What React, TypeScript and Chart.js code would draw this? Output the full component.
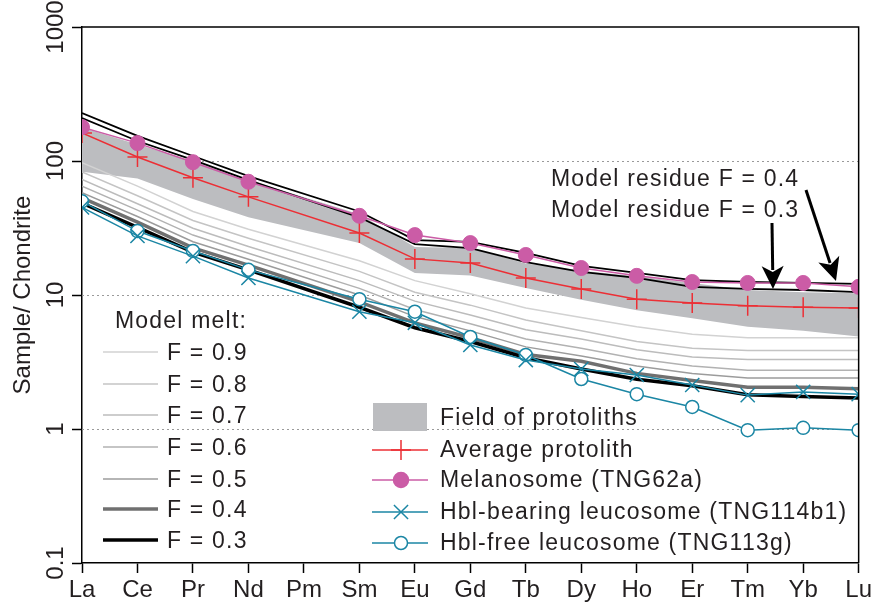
import React, { useEffect, useRef } from 'react';
import { Chart, registerables } from 'chart.js';

Chart.register(...registerables);

// ---------- data ----------
const elements = ['La', 'Ce', 'Pr', 'Nd', 'Pm', 'Sm', 'Eu', 'Gd', 'Tb', 'Dy', 'Ho', 'Er', 'Tm', 'Yb', 'Lu'];
const yTickValues = [0.1, 1, 10, 100, 1000];
const gridValues = [1, 10, 100];

const fieldUpper = [178, 133, 100, 72, null, 40, 22.8, 22.4, 17.2, 15.2, 13.8, 12.3, 10.9, 10.5, 10.3];
const fieldLower = [83, 74, 52, 38, null, 24.4, 14.6, 14.0, 11.3, 9.2, 7.7, 6.7, 5.8, 5.4, 4.9];

const averageProtolith = [162, 107, 75, 54, null, 29, 18.6, 17.3, 13.4, 11.1, 9.3, 8.7, 8.3, 8.1, 8.0];
const melanosome = [179, 136, 98, 70, null, 39, 28, 24.4, 19.9, 15.9, 13.9, 12.5, 12.3, 12.3, 11.5];
const hblBearing = [45, 27.6, 19.5, 13.4, null, 7.5, 6.2, 4.24, 3.27, 2.8, 2.53, 2.13, 1.79, 1.89, 1.82];
const hblFree = [50, 30, 21.3, 15.4, null, 9.3, 7.5, 4.86, 3.57, 2.36, 1.82, 1.46, 0.98, 1.02, 0.98];

const residueF04 = [228, 154, 109, 77, null, 42, 25.7, 24.9, 20.6, 16.5, 14.6, 12.9, 12.5, 12.3, 12.1];
const residueF03 = [209, 141, 102, 72, null, 38, 24, 22.4, 17.6, 14.9, 13.4, 11.5, 11.1, 10.9, 10.5];

const meltF09 = [97, 65, 42, 31, null, 18, 12.8, 10.2, 8.0, 6.8, 5.8, 5.1, 4.8, 4.8, 4.8];
const meltF08 = [83, 55, 36, 26.5, null, 15, 10.5, 8.4, 6.5, 5.4, 4.5, 4.0, 3.85, 3.85, 3.85];
const meltF07 = [73, 48, 31.5, 23, null, 12.8, 9.0, 7.1, 5.5, 4.7, 3.9, 3.45, 3.3, 3.3, 3.3];
const meltF06 = [65, 43, 28, 20.5, null, 11.2, 7.8, 6.1, 4.7, 4.0, 3.35, 2.95, 2.75, 2.75, 2.75];
const meltF05 = [58, 38.5, 25, 18.5, null, 10, 6.9, 5.4, 4.1, 3.5, 2.95, 2.6, 2.4, 2.4, 2.4];
const meltF04 = [53, 35, 22.5, 16.7, null, 8.9, 6.2, 4.8, 3.6, 3.2, 2.6, 2.3, 2.05, 2.05, 2.0];
const meltF03 = [48.6, 32, 20.9, 15.4, null, 8.1, 5.7, 4.5, 3.4, 2.8, 2.35, 2.1, 1.8, 1.75, 1.7];

const meltLabels = ['F = 0.9', 'F = 0.8', 'F = 0.7', 'F = 0.6', 'F = 0.5', 'F = 0.4', 'F = 0.3'];
const sampleLabels = ['Field of protoliths', 'Average protolith', 'Melanosome (TNG62a)', 'Hbl-bearing leucosome (TNG114b1)', 'Hbl-free leucosome (TNG113g)'];
const residueLabels = ['Model residue F = 0.4', 'Model residue F = 0.3'];
const yTitle = 'Sample/ Chondrite';
const meltTitle = 'Model melt:';

// ---------- styles ----------
const FONT = '"Liberation Sans", Arial, Helvetica, sans-serif';
const TEXT = '#231f20';
const RED = '#ec2f35';
const PINK = '#cb5ca6';
const TEAL = '#1b86a4';
const BAND = '#bcbdc0';
const meltColors = ['#d2d2d2', '#c4c4c4', '#bcbcbc', '#b2b2b2', '#9c9c9c', '#707070', '#000000'];
const meltWidths = [1.5, 1.5, 1.5, 1.5, 1.5, 3.5, 3.5];

const meltData = [meltF09, meltF08, meltF07, meltF06, meltF05, meltF04, meltF03];

function line(label: string, data: (number | null)[], color: string, width: number, order: number, extra: any = {}) {
  return {
    label,
    data,
    borderColor: color,
    backgroundColor: color,
    borderWidth: width,
    pointRadius: 0,
    pointHoverRadius: 0,
    fill: false,
    spanGaps: true,
    tension: 0,
    clip: 0,
    order,
    ...extra,
  };
}

function drawMarker(ctx: CanvasRenderingContext2D, style: string, x: number, y: number, r: number, color: string, fillColor: string) {
  ctx.save();
  ctx.strokeStyle = color;
  ctx.lineWidth = 1.5;
  ctx.beginPath();
  if (style === 'cross') {
    ctx.moveTo(x - r, y); ctx.lineTo(x + r, y);
    ctx.moveTo(x, y - r); ctx.lineTo(x, y + r);
    ctx.stroke();
  } else if (style === 'crossRot') {
    const d = r * Math.SQRT1_2;
    ctx.moveTo(x - d, y - d); ctx.lineTo(x + d, y + d);
    ctx.moveTo(x + d, y - d); ctx.lineTo(x - d, y + d);
    ctx.stroke();
  } else {
    ctx.arc(x, y, r, 0, Math.PI * 2);
    ctx.fillStyle = fillColor;
    ctx.fill();
    ctx.stroke();
  }
  ctx.restore();
}

function drawArrow(ctx: CanvasRenderingContext2D, x1: number, y1: number, x2: number, y2: number) {
  const ang = Math.atan2(y2 - y1, x2 - x1);
  const headLen = 23;
  const headHalf = 11;
  const bx = x2 - Math.cos(ang) * headLen;
  const by = y2 - Math.sin(ang) * headLen;
  ctx.save();
  ctx.strokeStyle = '#000';
  ctx.fillStyle = '#000';
  ctx.lineWidth = 3;
  ctx.beginPath();
  ctx.moveTo(x1, y1);
  ctx.lineTo(bx + Math.cos(ang) * 4, by + Math.sin(ang) * 4);
  ctx.stroke();
  ctx.beginPath();
  ctx.moveTo(x2, y2);
  ctx.lineTo(bx - Math.sin(ang) * headHalf, by + Math.cos(ang) * headHalf);
  ctx.lineTo(bx + Math.cos(ang) * 6, by + Math.sin(ang) * 6);
  ctx.lineTo(bx + Math.sin(ang) * headHalf, by - Math.cos(ang) * headHalf);
  ctx.closePath();
  ctx.fill();
  ctx.restore();
}

const gridPlugin = {
  id: 'dottedGrid',
  beforeDatasetsDraw(chart: any) {
    const { ctx, chartArea } = chart;
    const ys = chart.scales.y;
    ctx.save();
    ctx.strokeStyle = '#9a9a9a';
    ctx.lineWidth = 1;
    ctx.setLineDash([2, 3]);
    for (const v of gridValues) {
      const y = Math.round(ys.getPixelForValue(v)) + 0.5;
      ctx.beginPath();
      ctx.moveTo(chartArea.left, y);
      ctx.lineTo(chartArea.right, y);
      ctx.stroke();
    }
    ctx.restore();
  },
};

const framePlugin = {
  id: 'frameAndLegend',
  afterDraw(chart: any) {
    const { ctx, chartArea } = chart;
    ctx.save();
    // top and right frame
    ctx.strokeStyle = '#000';
    ctx.lineWidth = 1.5;
    ctx.beginPath();
    ctx.moveTo(chartArea.left, chartArea.top);
    ctx.lineTo(chartArea.right, chartArea.top);
    ctx.lineTo(chartArea.right, chartArea.bottom);
    ctx.stroke();

    ctx.font = `23px ${FONT}`;
    try { (ctx as any).letterSpacing = '1.2px'; } catch (e) { /* ignore */ }
    ctx.fillStyle = TEXT;
    ctx.textBaseline = 'alphabetic';
    ctx.textAlign = 'left';

    // left legend: model melt
    ctx.fillText(meltTitle, 115, 328);
    const meltBase = [360, 392, 423, 455, 487, 517, 548];
    meltLabels.forEach((lab, i) => {
      const yb = meltBase[i];
      ctx.save();
      ctx.strokeStyle = meltColors[i];
      ctx.lineWidth = meltWidths[i];
      ctx.beginPath();
      ctx.moveTo(103, yb - 8);
      ctx.lineTo(158, yb - 8);
      ctx.stroke();
      ctx.restore();
      ctx.fillText(lab, 167, yb);
    });

    // right legend: samples
    const sBase = [425, 457, 487, 519, 550];
    ctx.fillStyle = BAND;
    ctx.fillRect(373, 403, 54, 28);
    ctx.fillStyle = TEXT;
    sampleLabels.forEach((lab, i) => {
      const yb = sBase[i];
      ctx.fillText(lab, 440, yb);
    });
    const sampleStyles: [string, string, number, string][] = [
      ['cross', RED, 10, RED],
      ['circle', PINK, 7.5, PINK],
      ['crossRot', TEAL, 10, TEAL],
      ['circle', TEAL, 6.5, '#ffffff'],
    ];
    sampleStyles.forEach(([st, col, r, fc], i) => {
      const yc = sBase[i + 1] - 7;
      ctx.save();
      ctx.strokeStyle = col;
      ctx.lineWidth = 1.5;
      ctx.beginPath();
      ctx.moveTo(372, yc);
      ctx.lineTo(428, yc);
      ctx.stroke();
      ctx.restore();
      drawMarker(ctx, st, 401, yc, r, col, fc);
    });

    // annotation
    ctx.fillStyle = TEXT;
    ctx.fillText(residueLabels[0], 551, 186);
    ctx.fillText(residueLabels[1], 551, 217);
    drawArrow(ctx, 806, 190, 836, 281);
    drawArrow(ctx, 772, 223, 773, 289);
    ctx.restore();
  },
};

export default function App() {
  const ref = useRef<HTMLCanvasElement>(null);

  useEffect(() => {
    const canvas = ref.current;
    if (!canvas) return;

    const datasets: any[] = [
      line('field lower', fieldLower, 'rgba(0,0,0,0)', 1, 100),
      line(sampleLabels[0], fieldUpper, 'rgba(0,0,0,0)', 1, 99, { fill: '-1', backgroundColor: BAND }),
      ...meltData.map((d, i) => line('melt ' + meltLabels[i], d, meltColors[i], meltWidths[i], 90 - i)),
      line(residueLabels[0], residueF04, '#000', 1.8, 80),
      line(residueLabels[1], residueF03, '#000', 1.8, 79),
      line(sampleLabels[1], averageProtolith, RED, 1.5, 70, {
        pointStyle: 'cross', pointRadius: 10, pointBorderWidth: 1.5, pointBorderColor: RED,
      }),
      line(sampleLabels[2], melanosome, PINK, 1.5, 69, {
        pointStyle: 'circle', pointRadius: 7.5, pointBorderWidth: 1, pointBackgroundColor: PINK, pointBorderColor: PINK,
      }),
      line(sampleLabels[4], hblFree, TEAL, 1.5, 61, {
        pointStyle: 'circle', pointRadius: 6.5, pointBorderWidth: 1.5, pointBackgroundColor: '#ffffff', pointBorderColor: TEAL,
      }),
      line(sampleLabels[3], hblBearing, TEAL, 1.5, 60, {
        pointStyle: 'crossRot', pointRadius: 10, pointBorderWidth: 1.5, pointBorderColor: TEAL,
      }),
    ];

    const chart = new Chart(canvas, {
      type: 'line',
      data: { labels: elements, datasets },
      options: {
        animation: false,
        responsive: true,
        maintainAspectRatio: false,
        events: [],
        layout: { padding: { top: 27, right: 15, left: 0, bottom: 0 } },
        plugins: {
          legend: { display: false },
          tooltip: { enabled: false },
        },
        scales: {
          x: {
            type: 'category',
            offset: false,
            grid: { drawOnChartArea: false, drawTicks: true, tickLength: 10, tickColor: '#000', tickWidth: 1.5 },
            border: { color: '#000', width: 1.5 },
            ticks: { color: TEXT, font: { family: FONT, size: 24 }, padding: 3, autoSkip: false, maxRotation: 0 },
            afterFit: (s: any) => { s.height = 44; },
          },
          y: {
            type: 'logarithmic',
            min: 0.1,
            max: 1000,
            afterBuildTicks: (s: any) => { s.ticks = yTickValues.map((v) => ({ value: v, major: true })); },
            grid: { drawOnChartArea: false, drawTicks: true, tickLength: 10, tickColor: '#000', tickWidth: 1.5 },
            border: { color: '#000', width: 1.5 },
            ticks: {
              color: TEXT,
              font: { family: FONT, size: 24 },
              minRotation: 90,
              maxRotation: 90,
              crossAlign: 'center',
              padding: -11,
              callback: (v: any) => String(v),
            },
            title: {
              display: true,
              text: yTitle,
              color: TEXT,
              font: { family: FONT, size: 24 },
              padding: { top: 9, bottom: 0 },
            },
            afterFit: (s: any) => { s.width = 82; },
          },
        },
      } as any,
      plugins: [gridPlugin, framePlugin],
    });

    return () => chart.destroy();
  }, []);

  return (
    <div style={{ position: 'fixed', left: 0, top: 0, width: 875, height: 607, background: '#ffffff' }}>
      <canvas ref={ref} />
    </div>
  );
}
